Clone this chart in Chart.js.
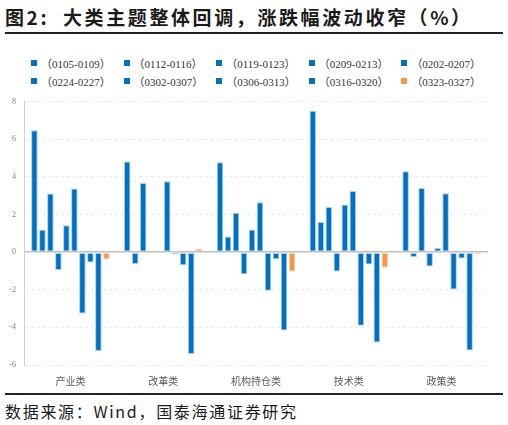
<!DOCTYPE html>
<html>
<head>
<meta charset="utf-8">
<script src="https://cdn.jsdelivr.net/npm/chart.js@4/dist/chart.umd.min.js"></script>
<style>
  body { margin: 0; width: 508px; height: 425px; background: #fff; position: relative; overflow: hidden; }
  #titulo { position: absolute; left: 5px; top: 3px; font: bold 19px "Noto Sans CJK SC", sans-serif; letter-spacing: 2.6px; color: #1a1a1a; white-space: nowrap; }
  #linea1 { position: absolute; left: 5px; top: 32px; width: 498px; height: 2px; background: #222; }
  #leyenda { position: absolute; left: 31px; top: 56px; width: 470px; display: grid; grid-template-columns: repeat(5, 92.6px); row-gap: 4px; }
  #leyenda .item { display: flex; align-items: center; height: 14px; font: 11px "Liberation Serif", "Noto Sans CJK SC", serif; color: #333; white-space: nowrap; }
  #leyenda .caja { width: 6px; height: 6px; margin-right: 4px; }
  #contenedor { position: absolute; left: 0; top: 89px; width: 508px; height: 300px; }
  #linea2 { position: absolute; left: 5px; top: 393px; width: 498px; height: 2px; background: #222; }
  #fuente { position: absolute; left: 5px; top: 399px; font: 16px "Noto Sans CJK SC", sans-serif; letter-spacing: 1.7px; color: #1a1a1a; white-space: nowrap; }
</style>
</head>
<body>
<div id="titulo">图2:&nbsp; 大类主题整体回调，涨跌幅波动收窄（%）</div>
<div id="linea1"></div>
<div id="leyenda"></div>
<div id="contenedor"><canvas id="temas"></canvas></div>
<div id="linea2"></div>
<div id="fuente">数据来源：Wind，国泰海通证券研究</div>
<script>
const categorias = ['产业类', '改革类', '机构持仓类', '技术类', '政策类'];
const periodos = ['（0105-0109）', '（0112-0116）', '（0119-0123）', '（0209-0213）', '（0202-0207）',
  '（0224-0227）', '（0302-0307）', '（0306-0313）', '（0316-0320）', '（0323-0327）'];

const s0105 = [6.49, 4.83, 4.79, 7.52, 4.31];
const s0112 = [1.19, -0.63, 0.84, 1.60, -0.26];
const s0119 = [3.12, 3.68, 2.10, 2.41, 3.41];
const s0209 = [-0.95, -0.05, -1.17, -1.03, -0.76];
const s0202 = [1.44, 0.05, 1.21, 2.54, 0.23];
const s0224 = [3.39, 3.78, 2.66, 3.25, 3.14];
const s0302 = [-3.26, -0.12, -2.05, -3.91, -1.98];
const s0306 = [-0.55, -0.70, -0.37, -0.65, -0.33];
const s0316 = [-5.26, -5.42, -4.16, -4.80, -5.23];
const s0323 = [-0.37, 0.20, -1.03, -0.83, -0.10];

const series = [s0105, s0112, s0119, s0209, s0202, s0224, s0302, s0306, s0316, s0323];
const ticksY = [-6, -4, -2, 0, 2, 4, 6, 8];

const azul = '#0070C0';
const naranja = '#F79646';

const datasets = series.map((valores, i) => {
  const ultimo = i === series.length - 1;
  return {
    label: periodos[i],
    data: valores,
    backgroundColor: ultimo ? naranja : azul,
    borderColor: ultimo ? '#FAD3B4' : '#A9CCEA',
    borderWidth: 1,
    borderSkipped: false,
    categoryPercentage: 0.862,
    barPercentage: 0.82
  };
});

// leyenda en HTML, 5 columnas como en el original
const leyenda = document.getElementById('leyenda');
datasets.forEach((ds) => {
  const item = document.createElement('div');
  item.className = 'item';
  const caja = document.createElement('span');
  caja.className = 'caja';
  caja.style.background = ds.backgroundColor;
  item.appendChild(caja);
  item.appendChild(document.createTextNode(ds.label));
  leyenda.appendChild(item);
});

new Chart(document.getElementById('temas'), {
  type: 'bar',
  data: { labels: categorias, datasets },
  options: {
    responsive: true,
    maintainAspectRatio: false,
    animation: false,
    layout: { padding: { top: 5, right: 20, left: 0, bottom: 0 } },
    plugins: {
      legend: { display: false },
      tooltip: { enabled: false }
    },
    scales: {
      x: {
        grid: { display: false },
        border: { display: false },
        ticks: {
          padding: 2,
          color: '#595959',
          font: { size: 10, family: "'Noto Sans CJK SC', sans-serif" }
        }
      },
      y: {
        min: -6,
        max: 8,
        afterBuildTicks: (eje) => { eje.ticks = ticksY.map((v) => ({ value: v })); },
        afterFit: (eje) => { eje.width = 24; },
        grid: {
          drawTicks: false,
          color: (ctx) => (ctx.tick && ctx.tick.value === 0 ? '#BFBFBF' : '#EAEAEA'),
          lineWidth: (ctx) => (ctx.tick && ctx.tick.value === 0 ? 1.5 : 1)
        },
        border: {
          display: true,
          color: '#D0D0D0',
          dash: (ctx) => (ctx.tick && ctx.tick.value === 0 ? [] : [3, 3])
        },
        ticks: {
          padding: 8,
          color: '#808080',
          font: { size: 8, family: "'Liberation Serif', serif" }
        }
      }
    }
  }
});
</script>
</body>
</html>
